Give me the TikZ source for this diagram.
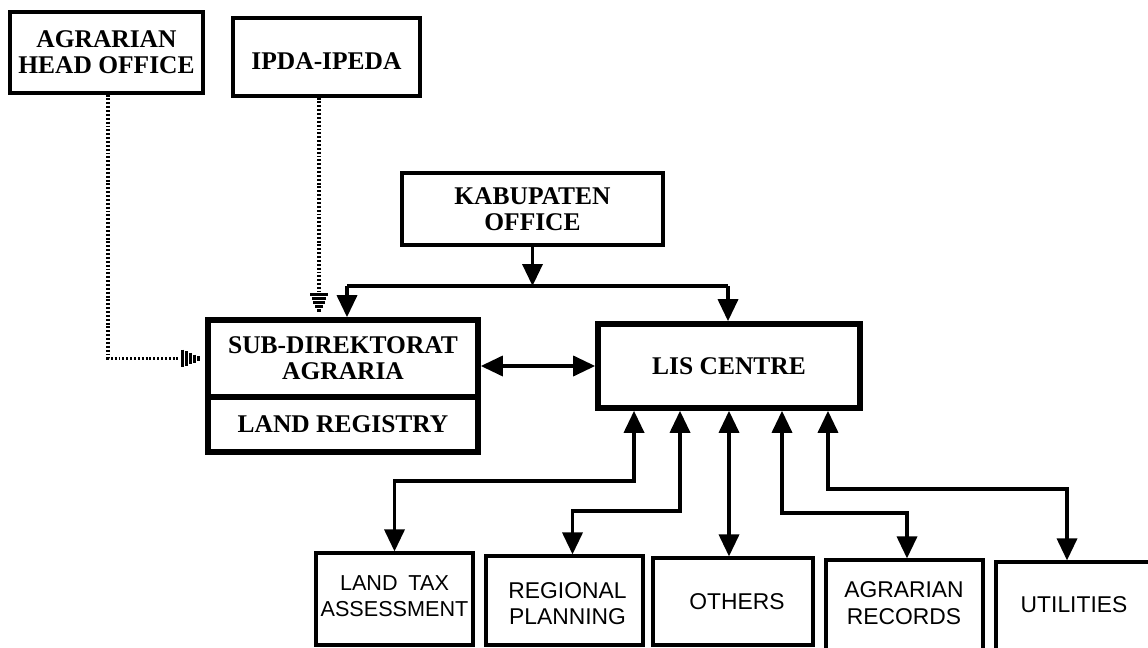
\documentclass[tikz,border=0pt]{standalone}
\usepackage{fontspec}
\setmainfont{Liberation Serif}
\newfontfamily\labelsans{Liberation Sans}
\usetikzlibrary{arrows.meta,fit,calc}

\begin{document}
\begin{tikzpicture}[x=0.02cm,y=-0.02cm,
  box/.style={draw, line width=1.8pt, inner sep=0pt},
  mainbox/.style={box, line width=3.2pt},
  serifbox/.style={align=center, inner sep=0pt, font=\fontsize{14.5}{15}\selectfont\bfseries},
  sansbox/.style={align=center, inner sep=0pt, font=\labelsans\fontsize{13}{15}\selectfont},
  link/.style={line width=2pt},
  arr/.style={link, -{Triangle[length=0.44cm,width=0.4cm]}},
  darr/.style={link, {Triangle[length=0.44cm,width=0.4cm]}-{Triangle[length=0.44cm,width=0.4cm]}},
  dotline/.style={line width=1.8pt, dash pattern=on 1.1pt off 1.1pt},
  pics/hatchtip/.style={code={
    \foreach \d/\h in {2.5/2.2,6.5/4,10.5/5.6,14.5/7.2,18.5/8.8}
      \draw[line width=1.5pt] (-\d,-\h) -- (-\d,\h);
  }}
]
\useasboundingbox (0,0) rectangle (1148,648);
\clip (0,0) rectangle (1148,648);

% upper offices
\node[box, fit={(10,12) (203,93)}] (aho) {};
\node[serifbox] (ahotext) at (aho) {AGRARIAN\\HEAD OFFICE};
\node[box, fit={(233,18) (420,96)}] (ipda) {};
\node[serifbox] (ipdatext) at ($(ipda)+(0,4)$) {IPDA-IPEDA};
\node[box, fit={(402,173) (663,245)}] (kab) {};
\node[serifbox] (kabtext) at (kab) {KABUPATEN\\OFFICE};

% central units
\node[mainbox, fit={(208,320) (478,397)}] (subtop) {};
\node[serifbox] (subtoptext) at (subtop) {SUB-DIREKTORAT\\AGRARIA};
\node[mainbox, fit={(208,397) (478,452)}] (subbot) {};
\node[serifbox] (subbottext) at (subbot) {LAND REGISTRY};
\node[mainbox, fit={(598,324) (860,408)}] (lis) {};
\node[serifbox] (listext) at (lis) {LIS CENTRE};

% user departments
\node[box, fit={(316,553) (473,645)}] (landtax) {};
\node[sansbox, font=\labelsans\fontsize{12.3}{15}\selectfont] (landtaxtext) at ($(landtax)+(0,-3)$) {LAND\enspace TAX\\ASSESSMENT};
\node[box, fit={(486,556) (643,645)}] (regional) {};
\node[sansbox] (regionaltext) at ($(regional)+(3,3)$) {REGIONAL\\PLANNING};
\node[box, fit={(653,558) (813,645)}] (others) {};
\node[sansbox] (otherstext) at ($(others)+(4,0)$) {OTHERS};
\node[box, fit={(826,560) (983,660)}] (agrec) {};
\node[sansbox] (agrectext) at (904,603) {AGRARIAN\\RECORDS};
\node[box, fit={(996,562) (1160,660)}] (util) {};
\node[sansbox] (utiltext) at (1074,605) {UTILITIES};

% dotted links with hatched heads
\coordinate (ipdax) at ([xshift=-0.15cm]ipda.south);
\coordinate (ipdatip) at ($(ipdax |- subtop.north)+(0,-4)$);
\draw[dotline] (ipdax) -- ($(ipdatip)+(0,-22)$);
\pic[rotate=-90] at (ipdatip) {hatchtip};

\coordinate (ahotip) at ($(subtop.west)+(-4,0)$);
\draw[dotline] ([xshift=0.03cm]aho.south) |- ($(ahotip)+(-22,0)$);
\pic at (ahotip) {hatchtip};

% Kabupaten office distribution
\coordinate (busL) at (347,286);
\coordinate (busR) at (728,286);
\draw[arr] (kab.south) -- (kab.south |- busL);
\draw[link] (busL) -- (busR);
\draw[arr] (busL) -- (busL |- subtop.north);
\draw[arr] (busR) -- (busR |- lis.north);

% sub-direktorat <-> LIS centre
\draw[darr] (lis.west) -- (lis.west -| subtop.east);

% LIS centre <-> departments
\draw[darr] ([xshift=-1.9cm]lis.south) -- ++(0,70) -| (landtax.north);
\draw[darr] ([xshift=-0.98cm]lis.south) -- ++(0,100) -| ([xshift=0.16cm]regional.north);
\draw[darr] (lis.south) -- (lis.south |- others.north);
\draw[darr] ([xshift=1.06cm]lis.south) -- ++(0,102) -| ([xshift=0.05cm]agrec.north);
\draw[darr] ([xshift=1.98cm]lis.south) -- ++(0,78) -| ([xshift=-0.22cm]util.north);
\end{tikzpicture}
\end{document}
